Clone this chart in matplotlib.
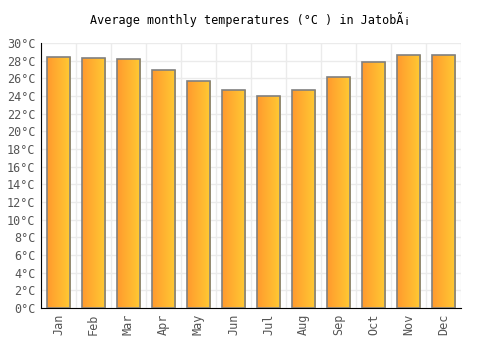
import numpy as np
import matplotlib
matplotlib.use("Agg")
from matplotlib import pyplot as plt
from matplotlib.colors import LinearSegmentedColormap

months = ["Jan", "Feb", "Mar", "Apr", "May", "Jun", "Jul", "Aug", "Sep", "Oct", "Nov", "Dec"]
temps = [28.4, 28.3, 28.15, 27.0, 25.7, 24.65, 24.0, 24.65, 26.2, 27.8, 28.7, 28.6]
yticks = list(range(0, 31, 2))

fig = plt.figure(figsize=(5, 3.5), dpi=100)
ax = fig.add_axes([0.082, 0.12, 0.84, 0.757])

x = np.arange(len(months))
bars = ax.bar(x, temps, width=0.66, color="none", edgecolor="#808080", linewidth=1.2, zorder=3)

# horizontal orange -> yellow gradient inside each bar
cmap = LinearSegmentedColormap.from_list("grad", ["#ff9a2e", "#ffcb33"])
grad = np.linspace(0, 1, 100).reshape(1, -1)
for b in bars:
    x0, w, h = b.get_x(), b.get_width(), b.get_height()
    im = ax.imshow(grad, cmap=cmap, aspect="auto", extent=[x0, x0 + w, 0, h], zorder=2)
    im.set_clip_path(b)

ax.set_xlim(-0.5, len(months) - 0.5)
ax.set_ylim(0, 30)
ax.set_yticks(yticks)
ax.set_yticklabels([f"{t}°C" for t in yticks])
ax.set_xticks(x)
ax.set_xticklabels(months, rotation=90)

# grid: horizontal every 2 deg, vertical at category boundaries
for t in yticks:
    ax.axhline(t, color="#ebebeb", linewidth=1, zorder=0)
for b in np.arange(-0.5, len(months), 1):
    ax.axvline(b, color="#ebebeb", linewidth=1, zorder=0)

for s in ["top", "right"]:
    ax.spines[s].set_visible(False)
ax.spines["left"].set_color("black")
ax.spines["bottom"].set_color("black")
ax.tick_params(length=0, labelsize=8.5, colors="#555555", pad=4)
for lab in ax.get_xticklabels() + ax.get_yticklabels():
    lab.set_family("DejaVu Sans Mono")

fig.suptitle("Average monthly temperatures (°C ) in JatobÃ¡", y=0.965,
             fontsize=8.5, family="DejaVu Sans Mono")

fig.savefig("out.png", dpi=100)
